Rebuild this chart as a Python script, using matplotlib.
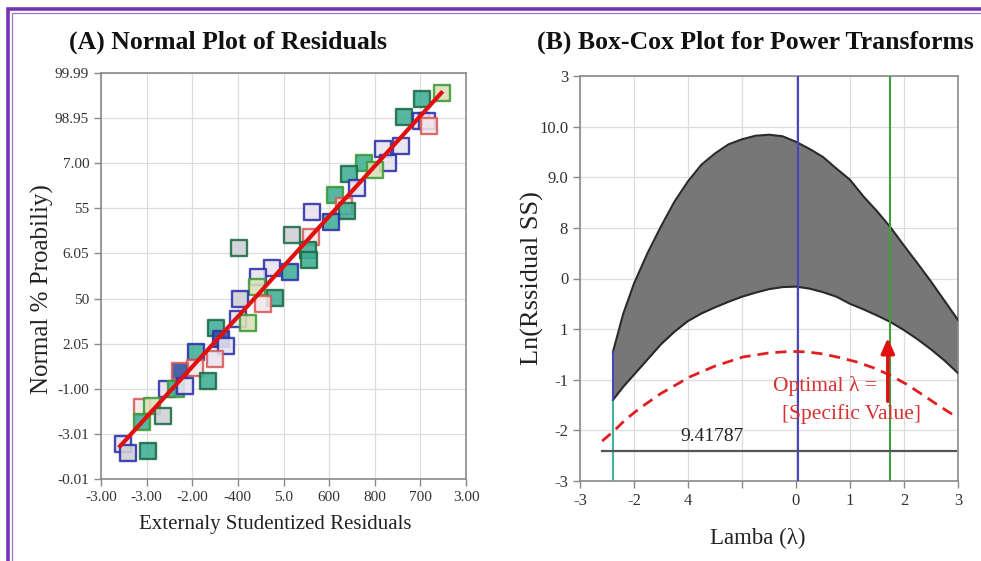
import numpy as np
import matplotlib.pyplot as plt
from matplotlib.patches import Rectangle

plt.rcParams['font.family'] = ['Liberation Serif', 'DejaVu Serif']

# ---- panel A data (positions in tick-index units) ----
a_xticklabels = ['-3.00', '-3.00', '-2.00', '-400', '5.0', '600', '800', '700', '3.00']
a_yticklabels = ['-0.01', '-3.01', '-1.00', '2.05', '50', '6.05', '55', '7.00', '98.95', '99.99']

resid_x = [7.48, 7.04, 6.64, 7.02, 7.15, 7.19, 6.18, 6.58, 6.29, 5.77, 6.01, 5.44, 5.61,
           5.13, 5.33, 5.39, 4.63, 5.04, 4.19, 4.61, 4.54, 4.56, 3.03, 3.75, 4.14, 3.44,
           3.42, 3.05, 3.82, 3.55, 3.00, 3.22, 2.52, 2.63, 2.74, 2.08, 2.50, 2.06, 1.73,
           2.35, 1.45, 1.64, 1.84, 0.90, 1.12, 1.36, 0.90, 0.48, 0.59, 1.03]
resid_y = [8.56, 8.43, 8.03, 7.94, 7.94, 7.83, 7.32, 7.38, 7.01, 7.01, 6.85, 6.76, 6.45,
           6.30, 6.05, 5.94, 5.92, 5.70, 5.41, 5.37, 5.08, 4.86, 5.12, 4.68, 4.59, 4.48,
           4.26, 3.99, 4.01, 3.88, 3.55, 3.46, 3.35, 3.10, 2.95, 2.82, 2.66, 2.46, 2.39,
           2.17, 2.00, 2.00, 2.06, 1.60, 1.62, 1.40, 1.26, 0.78, 0.58, 0.62]
# edge / face colour codes per point
edge_code = ['g', 'd', 'd', 'b', 'b', 'r', 'b', 'b', 'b', 'g', 'g', 'd', 'b',
             'g', 'r', 'd', 'b', 'b', 'd', 'r', 'd', 'd', 'd', 'b', 'b', 'b',
             'g', 'b', 'd', 'r', 'b', 'g', 'd', 'b', 'b', 'b', 'r', 'r', 'r',
             'd', 'b', 'g', 'b', 'r', 'g', 'd', 'g', 'b', 'b', 'd']
face_code = ['y', 't', 't', 'l', 'l', 'p', 'l', 'l', 'l', 't', 'y', 't', 'l',
             't', 'p', 't', 'l', 't', 'k', 'p', 't', 't', 'k', 'l', 't', 'l',
             'y', 'k', 't', 'p', 'l', 'y', 't', 'b', 'l', 't', 'l', 'p', 'b',
             't', 'l', 't', 'l', 'p', 'y', 'k', 't', 'l', 'k', 't']
fit_x = [0.42, 7.46]
fit_y = [0.73, 8.56]

edge_colors = {'g': '#3c9a34', 'd': '#1d6a45', 'b': '#2c2fa8', 'r': '#d65a5a'}
face_colors = {'y': '#d9e0b8', 't': '#3fae95', 'l': '#e6e3ef', 'p': '#f3e6e8',
               'k': '#cfd0d6', 'b': '#2d4fa0'}

# ---- panel B data ----
b_xticklabels = ['-3', '-2', '4', '', '0', '1', '2', '3']
b_yticklabels = ['-3', '-2', '-1', '1', '0', '8', '9.0', '10.0', '3']

lam = [0.61, 0.8, 1.0, 1.25, 1.5, 1.75, 2.0, 2.25, 2.5, 2.75, 3.0, 3.25, 3.5, 3.75,
       4.0, 4.25, 4.5, 4.75, 5.0, 5.25, 5.5, 5.75, 6.0, 6.25, 6.5, 6.75, 7.0]
upper = [2.55, 3.3, 3.9, 4.5, 5.03, 5.52, 5.92, 6.25, 6.47, 6.65, 6.75, 6.82, 6.84, 6.81,
         6.70, 6.56, 6.40, 6.17, 5.95, 5.62, 5.33, 5.01, 4.65, 4.30, 3.94, 3.56, 3.18]
lower = [1.60, 1.86, 2.10, 2.40, 2.70, 2.95, 3.16, 3.31, 3.43, 3.54, 3.64, 3.72, 3.79, 3.83,
         3.84, 3.80, 3.73, 3.64, 3.50, 3.39, 3.27, 3.14, 2.98, 2.80, 2.60, 2.38, 2.13]

ci_x = [0.41, 0.61, 0.85, 1.11, 1.5, 2.04, 2.5, 3.02, 3.5, 3.89, 4.2, 4.5, 4.8, 5.13,
        5.45, 5.74, 6.05, 6.35, 6.6, 6.89]
ci_y = [0.79, 0.97, 1.22, 1.44, 1.73, 2.06, 2.27, 2.45, 2.53, 2.56, 2.55, 2.51, 2.44, 2.35,
        2.23, 2.09, 1.91, 1.70, 1.52, 1.32]

lam_low, lam_best, lam_opt = 0.61, 4.04, 5.74
ss_level = 0.59
ss_label = '9.41787'

fig = plt.figure(figsize=(9.81, 5.61), dpi=100)

# purple frame
fig.patches.append(Rectangle((7.5 / 981, -0.1), 1.2, 1 - 9.0 / 561 + 0.1, transform=fig.transFigure,
                             fill=False, ec='#7436b0', lw=2.6))
fig.patches.append(Rectangle((11.5 / 981, -0.1), 1.2, 1 - 12.5 / 561 + 0.1, transform=fig.transFigure,
                             fill=False, ec='#9b74cc', lw=0.9))

tick_kw = dict(labelsize=11, colors='#888888', labelcolor='#333333', length=5, width=1)


def style_axes(ax):
    for s in ax.spines.values():
        s.set_color('#8a8a8a')
        s.set_linewidth(1.2)
    ax.grid(True, color='#dddddd', lw=0.9)
    ax.set_axisbelow(True)
    ax.tick_params(**tick_kw)


# ---- (A) ----
axA = fig.add_axes([101 / 981, 1 - 479 / 561, 365 / 981, 406 / 561])
style_axes(axA)
axA.set_xlim(0, 8)
axA.set_ylim(0, 9)
axA.set_xticks(range(9))
axA.set_xticklabels(a_xticklabels)
axA.set_yticks(range(10))
axA.set_yticklabels(a_yticklabels)
for x, y, e, f in zip(resid_x, resid_y, edge_code, face_code):
    axA.scatter(x, y, s=120, marker='s', facecolor=face_colors[f], edgecolor=edge_colors[e],
                linewidth=1.7, alpha=0.88, zorder=3)
axA.plot(fit_x, fit_y, color='#e01010', lw=3, zorder=4)
fig.text(275 / 981, 1 - 525 / 561, 'Externaly Studentized Residuals', ha='center', va='center',
         fontsize=15, color='#222222')
fig.text(42 / 981, 1 - 289 / 561, 'Normal % Proabiliy)', ha='center', va='center', rotation=90,
         fontsize=18, color='#222222')
fig.text(228 / 981, 1 - 42 / 561, '(A) Normal Plot of Residuals', ha='center', va='center',
         fontsize=18.5, fontweight='bold', color='#111111')

# ---- (B) ----
axB = fig.add_axes([580 / 981, 1 - 481 / 561, 378 / 981, 405 / 561])
style_axes(axB)
axB.set_xlim(0, 7)
axB.set_ylim(0, 8)
axB.set_xticks(range(8))
axB.set_xticklabels(b_xticklabels)
axB.set_yticks(range(9))
axB.set_yticklabels(b_yticklabels)
axB.tick_params(axis='both', labelsize=12)

axB.fill_between(lam, lower, upper, color='#707070', alpha=0.95, lw=0, zorder=2)
axB.plot(lam, upper, color='#2a2a2a', lw=1.5, zorder=3)
axB.plot(lam, lower, color='#2a2a2a', lw=1.5, zorder=3)
axB.plot([lam_low, lam_low], [0, lower[0]], color='#3fb59a', lw=1.5, zorder=3)
axB.plot([lam_low, lam_low], [lower[0], upper[0]], color='#4545c0', lw=1.5, zorder=3)
axB.axvline(lam_best, color='#4545c0', lw=1.5, zorder=4)
axB.axvline(lam_opt, color='#3ea03e', lw=1.5, zorder=4)
axB.plot(ci_x, ci_y, color='#e02020', lw=2, ls=(0, (4, 2.5)), zorder=4)
axB.plot([0.41, 6.96], [ss_level, ss_level], color='#555555', lw=1.6, zorder=4)
axB.text(2.44, ss_level + 0.12, ss_label, ha='center', va='bottom', fontsize=14, color='#222222')
axB.annotate('', xy=(5.70, 2.88), xytext=(5.70, 1.52),
             arrowprops=dict(arrowstyle='-|>,head_length=0.9,head_width=0.4', color='#e01010', lw=2.5),
             zorder=5)
axB.text(4.54, 1.88, 'Optimal λ =', ha='center', va='center', fontsize=15.5, color='#d83030', zorder=6)
axB.text(5.02, 1.33, '[Specific Value]', ha='center', va='center', fontsize=15.5, color='#d83030', zorder=6)
fig.text(758 / 981, 1 - 538 / 561, 'Lamba (λ)', ha='center', va='center', fontsize=16.5, color='#222222')
fig.text(532 / 981, 1 - 278 / 561, 'Ln(Rssidual SS)', ha='center', va='center', rotation=90,
         fontsize=19, color='#222222')
fig.text(755 / 981, 1 - 42 / 561, '(B) Box-Cox Plot for Power Transforms', ha='center', va='center',
         fontsize=18.5, fontweight='bold', color='#111111')

fig.savefig('out.png', dpi=100, facecolor='white')
